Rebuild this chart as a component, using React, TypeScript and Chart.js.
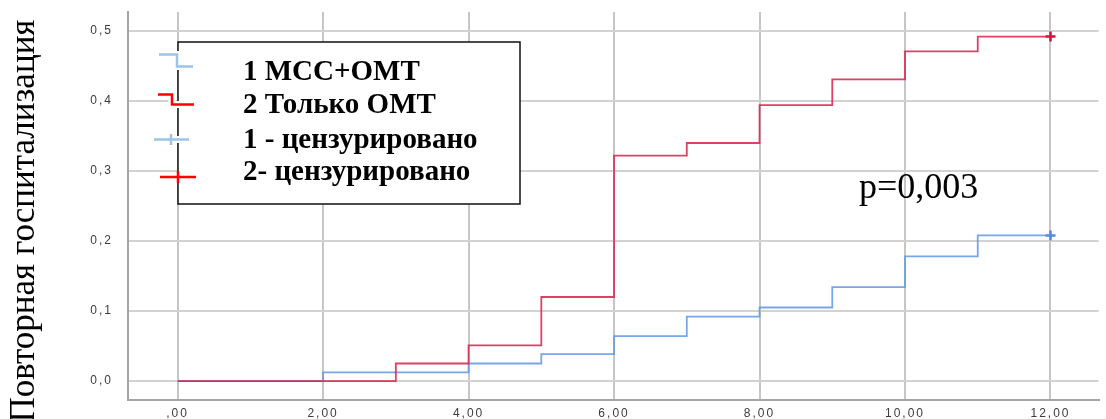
import { useEffect, useRef } from 'react';
import { Chart, registerables } from 'chart.js';

Chart.register(...registerables);

// Cumulative rehospitalisation, group 1 (МСС+ОМТ)
const mssTimes = [0, 2, 4, 5, 6, 7, 8, 9, 10, 11, 12];
const mssRisk = [0, 0.0125, 0.025, 0.0385, 0.064, 0.092, 0.105, 0.134, 0.178, 0.208, 0.208];
const mssCensored = [12];

// Cumulative rehospitalisation, group 2 (только ОМТ)
const omtTimes = [0, 3, 4, 5, 6, 7, 8, 9, 10, 11, 12];
const omtRisk = [0, 0.025, 0.051, 0.12, 0.322, 0.34, 0.394, 0.431, 0.471, 0.492, 0.492];
const omtCensored = [12];

const xTicks = [0, 2, 4, 6, 8, 10, 12];
const yTicks = [0, 0.1, 0.2, 0.3, 0.4, 0.5];

const legendLabels = ['1 МСС+ОМТ', '2 Только ОМТ', '1 - цензурировано', '2- цензурировано'];
const yTitle = 'Повторная госпитализация';
const pValueText = 'p=0,003';

const SERIF = '"Liberation Serif", "Times New Roman", serif';
const SANS = '"Liberation Sans", Arial, sans-serif';

const RED_LINE = 'rgba(218, 30, 72, 0.85)';
const BLUE_LINE = 'rgba(96, 150, 232, 0.85)';

function stepValue(times: number[], values: number[], t: number): number {
  let v = values[0];
  for (let i = 0; i < times.length; i++) {
    if (times[i] <= t) v = values[i];
  }
  return v;
}

function toPoints(times: number[], values: number[]) {
  return times.map((t, i) => ({ x: t, y: values[i] }));
}

const overlayPlugin = {
  id: 'kmOverlay',
  beforeDraw(chart: any) {
    chart.ctx.letterSpacing = '2px';
  },
  beforeDatasetsDraw(chart: any) {
    chart.ctx.letterSpacing = '0px';
  },
  afterDraw(chart: any) {
    const ctx = chart.ctx as CanvasRenderingContext2D;
    ctx.save();
    ctx.letterSpacing = '0px';

    // y-axis title
    ctx.save();
    ctx.translate(34, 221);
    ctx.rotate(-Math.PI / 2);
    ctx.font = `35px ${SERIF}`;
    ctx.fillStyle = '#000';
    ctx.textAlign = 'center';
    ctx.textBaseline = 'alphabetic';
    ctx.fillText(yTitle, 0, 0);
    ctx.restore();

    // legend box
    const bx = 178, by = 42, bw = 342, bh = 162;
    ctx.fillStyle = '#fff';
    ctx.fillRect(bx, by, bw, bh);
    ctx.strokeStyle = '#111';
    ctx.lineWidth = 1.5;
    ctx.strokeRect(bx, by, bw, bh);

    const drawPath = (pts: number[][], color: string) => {
      ctx.lineCap = 'butt';
      ctx.lineJoin = 'miter';
      for (const pass of [0, 1]) {
        ctx.beginPath();
        ctx.moveTo(pts[0][0], pts[0][1]);
        for (let i = 1; i < pts.length; i++) ctx.lineTo(pts[i][0], pts[i][1]);
        ctx.strokeStyle = pass === 0 ? '#fff' : color;
        ctx.lineWidth = pass === 0 ? 7 : 2.5;
        ctx.stroke();
      }
    };
    const drawCross = (x0: number, x1: number, y: number, xc: number, h: number, color: string) => {
      drawPath([[x0, y], [x1, y]], color);
      ctx.beginPath();
      ctx.moveTo(xc, y - h);
      ctx.lineTo(xc, y + h);
      ctx.strokeStyle = color;
      ctx.lineWidth = 2.5;
      ctx.stroke();
    };

    drawPath([[159, 54.5], [177, 54.5], [177, 66.5], [193, 66.5]], '#9dc3e6');
    drawPath([[158, 94.5], [172, 94.5], [172, 104.5], [194, 104.5]], '#ff0000');
    drawCross(154, 189, 139.5, 171, 5.5, '#9dc3e6');
    drawCross(160, 196, 177, 178, 6, '#ff0000');

    ctx.fillStyle = '#000';
    ctx.font = `bold 29px ${SERIF}`;
    ctx.textAlign = 'left';
    ctx.textBaseline = 'alphabetic';
    const baselines = [80, 113, 148, 180];
    legendLabels.forEach((label, i) => ctx.fillText(label, 243, baselines[i]));

    // log-rank p-value
    ctx.font = `36px ${SERIF}`;
    ctx.fillText(pValueText, 859, 198);

    ctx.restore();
  },
};

export default function App() {
  const canvasRef = useRef<HTMLCanvasElement | null>(null);

  useEffect(() => {
    const canvas = canvasRef.current;
    if (!canvas) return;

    const chart = new Chart(canvas, {
      type: 'line',
      data: {
        datasets: [
          {
            label: legendLabels[1],
            data: toPoints(omtTimes, omtRisk),
            stepped: 'before',
            borderColor: RED_LINE,
            borderWidth: 1.8,
            pointRadius: 0,
            fill: false,
          },
          {
            label: legendLabels[0],
            data: toPoints(mssTimes, mssRisk),
            stepped: 'before',
            borderColor: BLUE_LINE,
            borderWidth: 1.8,
            pointRadius: 0,
            fill: false,
          },
          {
            label: legendLabels[3],
            data: omtCensored.map((t) => ({ x: t, y: stepValue(omtTimes, omtRisk, t) })),
            showLine: false,
            pointStyle: 'cross',
            pointRadius: 5,
            pointBorderWidth: 2.5,
            pointBorderColor: '#d0103f',
          },
          {
            label: legendLabels[2],
            data: mssCensored.map((t) => ({ x: t, y: stepValue(mssTimes, mssRisk, t) })),
            showLine: false,
            pointStyle: 'cross',
            pointRadius: 5,
            pointBorderWidth: 2.5,
            pointBorderColor: '#4d8ae0',
          },
        ],
      },
      options: {
        animation: false,
        responsive: true,
        maintainAspectRatio: false,
        layout: { padding: { top: 12, left: 0, right: 0, bottom: 0 } },
        plugins: { legend: { display: false }, tooltip: { enabled: false } },
        events: [],
        scales: {
          x: {
            type: 'linear',
            min: -0.682,
            max: 12.66,
            afterBuildTicks: (scale: any) => {
              scale.ticks = xTicks.map((v) => ({ value: v }));
            },
            afterFit: (scale: any) => {
              scale.height = 19;
              scale.paddingLeft = 0;
              scale.paddingRight = 0;
            },
            grid: { color: '#c6c6c6', lineWidth: 2, drawTicks: false },
            border: { color: '#a4a4a4', width: 2 },
            ticks: {
              padding: 6,
              maxRotation: 0,
              autoSkip: false,
              color: '#3c3c3c',
              font: { family: SANS, size: 12 },
              callback: (v: any) => (Number(v) === 0 ? ',00' : Number(v).toFixed(2).replace('.', ',')),
            },
          },
          y: {
            type: 'linear',
            min: -0.0271,
            max: 0.5271,
            afterBuildTicks: (scale: any) => {
              scale.ticks = yTicks.map((v) => ({ value: v }));
            },
            afterFit: (scale: any) => {
              scale.width = 128;
              scale.paddingTop = 0;
              scale.paddingBottom = 0;
            },
            grid: { color: '#d2d2d2', lineWidth: 2, drawTicks: false },
            border: { color: '#a4a4a4', width: 2 },
            ticks: {
              padding: 15,
              autoSkip: false,
              color: '#3c3c3c',
              font: { family: SANS, size: 12 },
              callback: (v: any) => Number(v).toFixed(1).replace('.', ','),
            },
          },
        },
      },
      plugins: [overlayPlugin],
    });

    return () => chart.destroy();
  }, []);

  return (
    <div style={{ position: 'fixed', left: 0, top: 0, width: 1106, height: 419, background: '#fff' }}>
      <canvas ref={canvasRef} />
    </div>
  );
}
